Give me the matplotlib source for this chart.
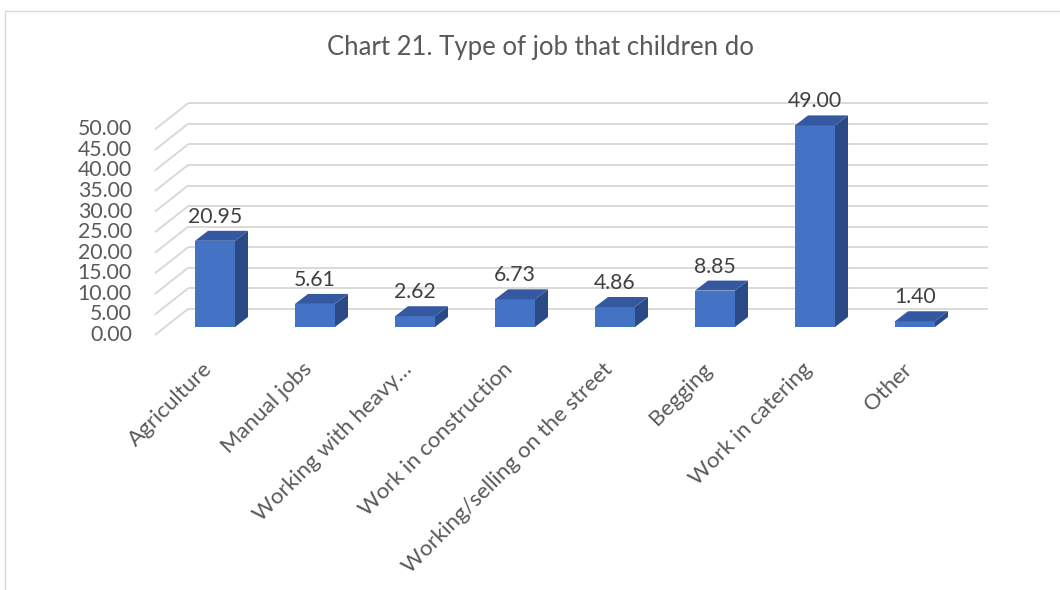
import matplotlib
matplotlib.use("Agg")
import matplotlib.pyplot as plt
from matplotlib.patches import Polygon, Rectangle

# ---- data -------------------------------------------------------------
categories = [
    "Agriculture",
    "Manual jobs",
    "Working with heavy…",
    "Work in construction",
    "Working/selling on the street",
    "Begging",
    "Work in catering",
    "Other",
]
values = [20.95, 5.61, 2.62, 6.73, 4.86, 8.85, 49.00, 1.40]
y_ticks = [0, 5, 10, 15, 20, 25, 30, 35, 40, 45, 50]
title = "Chart 21. Type of job that children do"

# ---- styling ----------------------------------------------------------
plt.rcParams["font.family"] = ["Lato", "DejaVu Sans"]
FRONT = "#4472C4"
TOP = "#3559A0"
SIDE = "#2A4A85"
GRID = "#D9D9D9"
TXT = "#595959"
LBL = "#404040"

W, H, DPI = 1060, 590, 100
fig = plt.figure(figsize=(W / DPI, H / DPI), dpi=DPI)
fig.patch.set_facecolor("white")

# axes spans the plane of the bar front faces
ax = fig.add_axes([165 / W, 263 / H, 800 / W, 205.7 / H])
n = len(categories)
ax.set_xlim(-0.5, n - 0.5)
ax.set_ylim(0, 50)
ax.axis("off")

sx = ax.bbox.width / n      # pixels per category
sy = ax.bbox.height / 50    # pixels per value unit


def depth(px, py):
    """Convert an oblique pixel offset into data units."""
    return px / sx, py / sy


bx, by = depth(23, 18)     # back wall
fx, fy = depth(-10, -8)    # front edge of the floor
dx, dy = depth(13, 10)     # depth of each column
bw = 0.4

# back-wall gridlines and side-wall diagonals
for t in y_ticks:
    ax.plot([-0.5 + bx, n - 0.5 + bx], [t + by, t + by], color=GRID,
            lw=1.4, zorder=1, clip_on=False, solid_capstyle="butt")
    ax.plot([-0.5 + fx, -0.5 + bx], [t + fy, t + by], color=GRID,
            lw=1.4, zorder=1, clip_on=False, solid_capstyle="butt")
    ax.annotate(f"{t:.2f}", (-0.5 + fx, t + fy), xytext=(-23, 0),
                textcoords="offset pixels", ha="right", va="center",
                fontsize=15.3, color=TXT, annotation_clip=False)

# columns
xs = list(range(n))
ax.bar(xs, values, width=bw, color=FRONT, zorder=3, clip_on=False)
for x, v in zip(xs, values):
    r, l = x + bw / 2, x - bw / 2
    side = Polygon([(r, 0), (r + dx, dy), (r + dx, v + dy), (r, v)],
                   closed=True, fc=SIDE, ec="none", zorder=3, clip_on=False)
    top = Polygon([(l, v), (r, v), (r + dx, v + dy), (l + dx, v + dy)],
                  closed=True, fc=TOP, ec="none", zorder=3, clip_on=False)
    ax.add_patch(side)
    ax.add_patch(top)
    ax.annotate(f"{v:.2f}", (x, v), xytext=(0, 18), textcoords="offset pixels",
                ha="center", va="baseline", fontsize=15.3, color=LBL,
                annotation_clip=False)

# category labels
for x, c in zip(xs, categories):
    ax.annotate(c, (x, 0), xytext=(-13, -32), textcoords="offset pixels",
                rotation=45, rotation_mode="anchor", ha="right", va="top",
                fontsize=16, color=TXT, annotation_clip=False)

fig.text(540 / W, 1 - 48 / H, title, ha="center", va="center",
         fontsize=18.5, color=TXT)

# chart frame
fig.add_artist(Rectangle((5 / W, -0.1), 1.2, (1 - 11 / H) + 0.1,
                         transform=fig.transFigure, fill=False,
                         ec="#D9D9D9", lw=1))

fig.savefig("out.png", dpi=DPI)
